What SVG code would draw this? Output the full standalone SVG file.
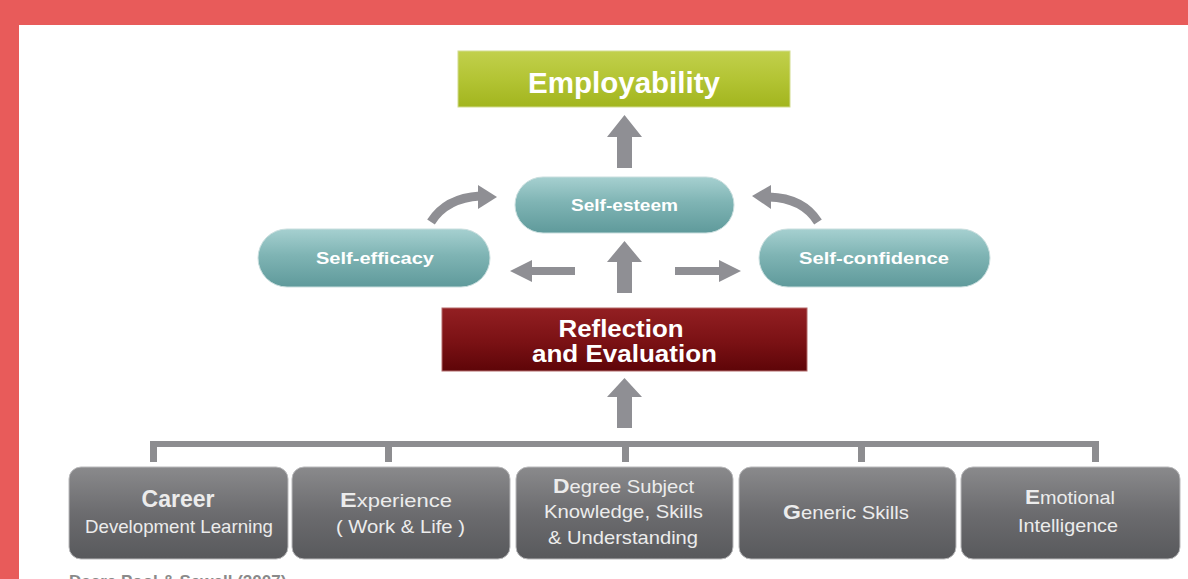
<svg xmlns="http://www.w3.org/2000/svg" width="1188" height="579" viewBox="0 0 1188 579">
<style>
  text { font-family: "Liberation Sans", Arial, sans-serif; text-anchor: middle; }
  .t-main { fill: #ffffff; font-weight: bold; }
  .t-pill { fill: #ffffff; font-weight: bold; font-size: 17px; }
  .t-box { fill: #ececec; font-size: 18.5px; }
  .big { font-size: 23px; font-weight: bold; }
  .cap { font-size: 21px; font-weight: bold; }
  .arrow { fill: #8f8f94; }
  .arc { fill: none; stroke: #8f8f94; stroke-width: 9; }
  .bracket { fill: #8d8d90; }
  .pill { fill: url(#teal); stroke: #c9dede; stroke-width: 1; }
  .gbox { fill: url(#gray); stroke: #b9b9bb; stroke-width: 1; }
</style>
<defs>
  <linearGradient id="green" x1="0" y1="0" x2="0" y2="1">
    <stop offset="0" stop-color="#c1d04c"/>
    <stop offset="0.5" stop-color="#b3c434"/>
    <stop offset="1" stop-color="#a2b51e"/>
  </linearGradient>
  <linearGradient id="red" x1="0" y1="0" x2="0" y2="1">
    <stop offset="0" stop-color="#931f22"/>
    <stop offset="0.55" stop-color="#7a1114"/>
    <stop offset="1" stop-color="#5e0508"/>
  </linearGradient>
  <linearGradient id="teal" x1="0" y1="0" x2="0" y2="1">
    <stop offset="0" stop-color="#a6d0d0"/>
    <stop offset="0.45" stop-color="#7fb4b4"/>
    <stop offset="1" stop-color="#5f9a9b"/>
  </linearGradient>
  <linearGradient id="gray" x1="0" y1="0" x2="0" y2="1">
    <stop offset="0" stop-color="#8a8a8c"/>
    <stop offset="0.5" stop-color="#6c6c6f"/>
    <stop offset="1" stop-color="#58595c"/>
  </linearGradient>
</defs>

<rect x="0" y="0" width="1188" height="579" fill="#e85b5a"/>
<rect x="19" y="25" width="1169" height="554" fill="#ffffff"/>

<g id="connectors">
  <polygon class="arrow" points="617,168 617,137 607,137 624.5,115 642,137 632,137 632,168"/>
  <polygon class="arrow" points="617,293 617,262 607,262 624.5,241 642,262 632,262 632,293"/>
  <polygon class="arrow" points="617,428 617,397 607,397 624.5,378 642,397 632,397 632,428"/>
  <polygon class="arrow" points="575,267 532,267 532,260 510,271 532,282 532,275 575,275"/>
  <polygon class="arrow" points="675,267 719,267 719,260 741,271 719,282 719,275 675,275"/>
  <path class="arc" d="M431,222 Q446,198 480,196"/>
  <polygon class="arrow" points="478,185 497,197 478,209"/>
  <path class="arc" d="M818,222 Q803,198 769,197"/>
  <polygon class="arrow" points="771,185 752,196 771,209"/>
  <g id="bracket">
    <rect class="bracket" x="150" y="441" width="948" height="6"/>
    <rect class="bracket" x="150" y="441" width="7" height="21"/>
    <rect class="bracket" x="385" y="441" width="7" height="21"/>
    <rect class="bracket" x="622" y="441" width="7" height="21"/>
    <rect class="bracket" x="858" y="441" width="7" height="21"/>
    <rect class="bracket" x="1092" y="441" width="7" height="21"/>
  </g>
</g>

<g id="employability">
  <rect x="458" y="51" width="332" height="56" fill="url(#green)" stroke="#d2dc8e" stroke-width="1"/>
  <text class="t-main" x="624" y="93" font-size="29.5" textLength="192" lengthAdjust="spacingAndGlyphs">Employability</text>
</g>

<g id="self-esteem">
  <rect class="pill" x="515" y="177" width="219" height="56" rx="28"/>
  <text class="t-pill" x="624.5" y="211" textLength="107" lengthAdjust="spacingAndGlyphs">Self-esteem</text>
</g>

<g id="self-efficacy">
  <rect class="pill" x="258" y="229" width="232" height="58" rx="29"/>
  <text class="t-pill" x="375" y="264" textLength="118" lengthAdjust="spacingAndGlyphs">Self-efficacy</text>
</g>

<g id="self-confidence">
  <rect class="pill" x="759" y="229" width="231" height="58" rx="29"/>
  <text class="t-pill" x="874" y="264" textLength="150" lengthAdjust="spacingAndGlyphs">Self-confidence</text>
</g>

<g id="reflection">
  <rect x="442" y="308" width="365" height="63" fill="url(#red)" stroke="#b36a6b" stroke-width="1"/>
  <text class="t-main" x="621" y="337" font-size="23" textLength="125" lengthAdjust="spacingAndGlyphs">Reflection</text>
  <text class="t-main" x="624.5" y="362" font-size="23" textLength="185" lengthAdjust="spacingAndGlyphs">and Evaluation</text>
</g>

<g id="career">
  <rect class="gbox" x="69" y="467" width="219" height="92" rx="12"/>
  <text class="t-box big" x="178" y="507">Career</text>
  <text class="t-box" x="179" y="533" textLength="188" lengthAdjust="spacingAndGlyphs">Development Learning</text>
</g>

<g id="experience">
  <rect class="gbox" x="292" y="467" width="218" height="92" rx="12"/>
  <text class="t-box" x="396" y="507" textLength="112" lengthAdjust="spacingAndGlyphs"><tspan class="cap">E</tspan>xperience</text>
  <text class="t-box" x="400.5" y="533" textLength="129" lengthAdjust="spacingAndGlyphs">( Work &amp; Life )</text>
</g>

<g id="degree">
  <rect class="gbox" x="516" y="467" width="217" height="92" rx="12"/>
  <text class="t-box" x="623.5" y="493" textLength="141" lengthAdjust="spacingAndGlyphs"><tspan class="cap">D</tspan>egree Subject</text>
  <text class="t-box" x="623.5" y="518" textLength="159" lengthAdjust="spacingAndGlyphs">Knowledge, Skills</text>
  <text class="t-box" x="623" y="544" textLength="150" lengthAdjust="spacingAndGlyphs">&amp; Understanding</text>
</g>

<g id="generic">
  <rect class="gbox" x="739" y="467" width="217" height="92" rx="12"/>
  <text class="t-box" x="846" y="519" textLength="126" lengthAdjust="spacingAndGlyphs"><tspan class="cap">G</tspan>eneric Skills</text>
</g>

<g id="emotional">
  <rect class="gbox" x="961" y="467" width="219" height="92" rx="12"/>
  <text class="t-box" x="1070" y="504" textLength="90" lengthAdjust="spacingAndGlyphs"><tspan class="cap">E</tspan>motional</text>
  <text class="t-box" x="1068" y="532" textLength="100" lengthAdjust="spacingAndGlyphs">Intelligence</text>
</g>

<text x="69" y="587" style="text-anchor:start" font-size="17" font-weight="bold" fill="#8a8a8a">Dacre Pool &amp; Sewell (2007)</text>
</svg>
